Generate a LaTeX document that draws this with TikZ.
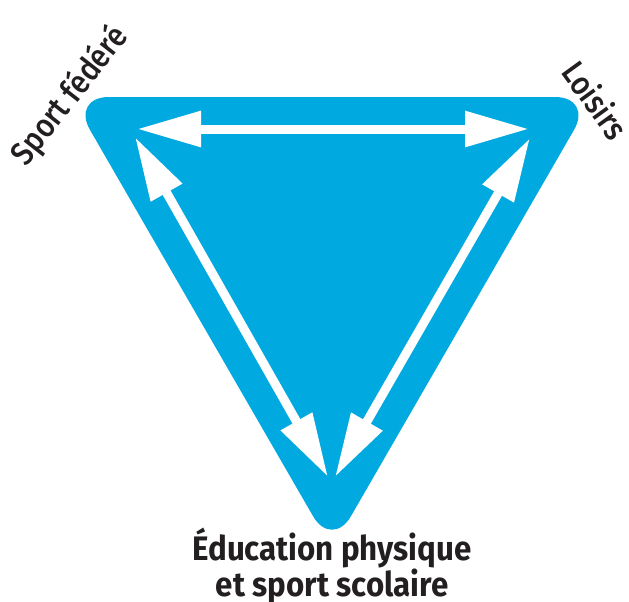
\documentclass[tikz,border=0pt]{standalone}
\usepackage{fontspec}
\setmainfont{Fira Sans}
\newfontfamily\medfont{Fira Sans Medium}
\usetikzlibrary{arrows.meta,positioning}
\definecolor{sportblue}{RGB}{0,169,224}
\definecolor{inkgray}{RGB}{35,31,32}

\begin{document}
\begin{tikzpicture}[x=1pt,y=-1pt,
	link/.style={draw=white,line width=9pt,{Triangle[length=64pt,width=34pt]}-{Triangle[length=64pt,width=34pt]}},
	corner/.style={text=inkgray,font=\medfont\fontsize{33}{33}\selectfont},
	base/.style={text=inkgray,font=\bfseries\fontsize{34}{32}\selectfont,align=center}]
	\useasboundingbox (0,0) rectangle (629,602);
	\coordinate (sf) at (71,97);
	\coordinate (lo) at (593,97);
	\coordinate (ep) at (332,549);
	\fill[sportblue,rounded corners=38pt] (sf) -- (lo) -- (ep) -- cycle;
	\coordinate (sf1) at (137,129);
	\coordinate (lo1) at (529,129);
	\coordinate (sf2) at (135,137);
	\coordinate (ep2) at (328,477);
	\coordinate (lo2) at (530,138);
	\coordinate (ep3) at (335,477);
	\draw[link] (sf1) -- (lo1);
	\draw[link] (sf2) -- (ep2);
	\draw[link] (lo2) -- (ep3);
	\node (sport)[corner,rotate=52,xscale=0.88] at (70,96) {Sport fédéré};
	\node (loisirs)[corner,rotate=-54,xscale=0.88] at (596,100) {Loisirs};
	\node (eps)[base,anchor=north,xscale=0.92] at (332,524) {Éducation physique\\et sport scolaire};
\end{tikzpicture}
\end{document}
